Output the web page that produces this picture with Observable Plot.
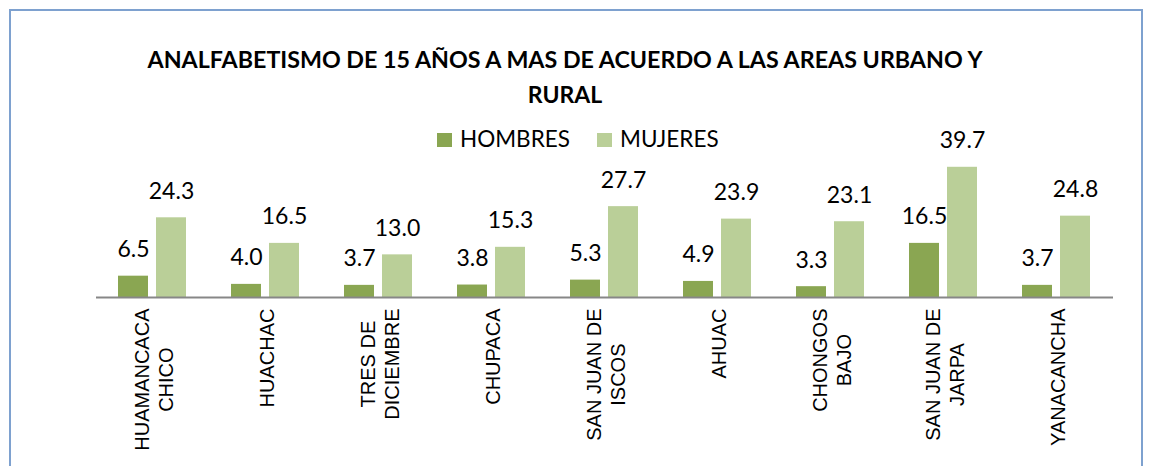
<!DOCTYPE html>
<html><head><meta charset="utf-8">
<script src="https://cdn.jsdelivr.net/npm/d3@7"></script>
<script src="https://cdn.jsdelivr.net/npm/@observablehq/plot@0.6"></script>
<style>
html,body{margin:0;padding:0;background:#fff;overflow:hidden;width:1149px;height:466px;}
#frame{position:absolute;left:9px;top:9px;width:1130px;height:470px;border:2px solid #7ea1cf;border-bottom:none;z-index:10;pointer-events:none;}
#head{position:absolute;left:0;top:0;z-index:5;}
#chart{position:absolute;left:0;top:110px;z-index:1;}
</style></head><body>
<div id="chart"></div>
<svg id="head" width="1149" height="160"></svg>
<div id="frame"></div>
<script>
const categories = ["HUAMANCACA\nCHICO", "HUACHAC", "TRES DE\nDICIEMBRE", "CHUPACA", "SAN JUAN DE\nISCOS", "AHUAC", "CHONGOS\nBAJO", "SAN JUAN DE\nJARPA", "YANACANCHA"];
const hombres = [6.5, 4.0, 3.7, 3.8, 5.3, 4.9, 3.3, 16.5, 3.7];
const mujeres = [24.3, 16.5, 13.0, 15.3, 27.7, 23.9, 23.1, 39.7, 24.8];
const series = ["HOMBRES", "MUJERES"];
const colors = ["#8aa652", "#bacf98"];
const titleLines = ["ANALFABETISMO DE 15 AÑOS A MAS DE ACUERDO A LAS AREAS URBANO Y", "RURAL"];

const data = categories.flatMap((c, i) => [
  {cat: c, sex: series[0], value: hombres[i]},
  {cat: c, sex: series[1], value: mujeres[i]}
]);

// Title and legend
const head = d3.select("#head");
head.selectAll("text.title").data(titleLines).join("text")
  .attr("class", "title")
  .attr("x", 565).attr("y", (d, i) => 68 + i * 35)
  .attr("text-anchor", "middle")
  .attr("font-family", "Lato, 'Open Sans', sans-serif")
  .attr("font-weight", "bold").attr("font-size", 23).attr("fill", "#000")
  .attr("textLength", (d, i) => i === 0 ? 835 : null)
  .attr("lengthAdjust", "spacingAndGlyphs")
  .text(d => d);
const legX = [437, 597];
series.forEach((s, i) => {
  head.append("rect").attr("x", legX[i]).attr("y", 133).attr("width", 15).attr("height", 14).attr("fill", colors[i]);
  head.append("text").attr("x", legX[i] + 23).attr("y", 147)
    .attr("font-family", "Lato, 'Open Sans', sans-serif").attr("font-size", 22.5).attr("fill", "#000").text(s);
});

const plot = Plot.plot({
  width: 1149, height: 356,
  marginLeft: 95, marginRight: 36, marginTop: 39.4, marginBottom: 169,
  fx: {domain: categories, padding: 0, axis: null},
  x: {domain: series, paddingInner: 0.21, paddingOuter: 0.59, axis: null},
  y: {domain: [0, 45], axis: null},
  color: {domain: series, range: colors},
  style: {fontFamily: "Lato, 'Open Sans', sans-serif", background: "transparent", overflow: "visible"},
  marks: [
    Plot.barY(data, {fx: "cat", x: "sex", y: "value", fill: "sex"}),
    Plot.ruleY([0], {stroke: "#878787", strokeWidth: 2}),
    Plot.text(data, {fx: "cat", x: "sex", y: "value", text: d => d.value.toFixed(1), lineAnchor: "bottom", dy: -19, fontSize: 23, fill: "#000"}),
    Plot.text(categories, {fx: d => d, text: d => d, frameAnchor: "bottom", rotate: -90, textAnchor: "end", lineAnchor: "middle", lineHeight: 1.22, dy: 11, fontSize: 20, fontFamily: "'Liberation Sans', Arial, sans-serif", fill: "#000"})
  ]
});
document.getElementById("chart").append(plot);
plot.querySelectorAll("text").forEach(t => {
  const ts = [...t.querySelectorAll("tspan")];
  if (ts.length < 2) return;
  const w = ts.map(s => s.getComputedTextLength());
  const m = Math.max(...w);
  ts.forEach((s, i) => s.setAttribute("x", -(m - w[i]) / 2));
});
</script>
</body></html>
